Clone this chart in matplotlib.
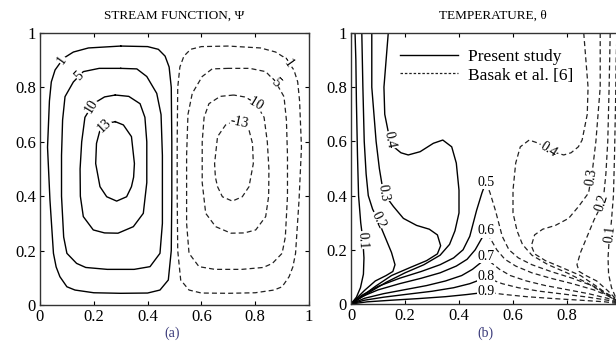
import numpy as np
import matplotlib.pyplot as plt
from matplotlib.lines import Line2D

plt.rcParams['font.family'] = ['Liberation Serif', 'DejaVu Serif']

# ---- stream function contours (left cell) ----
psi_levels = [1, 5, 10, 13]
psi1_x = [0.30, 0.40, 0.44, 0.465, 0.48, 0.488, 0.49, 0.49, 0.488, 0.477, 0.446, 0.40, 0.30, 0.20,
          0.13, 0.10, 0.074, 0.06, 0.05, 0.037, 0.028, 0.035, 0.042, 0.056, 0.087, 0.124, 0.18, 0.30]
psi1_y = [0.952, 0.95, 0.94, 0.915, 0.875, 0.8, 0.6, 0.4, 0.2, 0.092, 0.055, 0.044, 0.043, 0.045,
          0.055, 0.067, 0.104, 0.14, 0.19, 0.386, 0.58, 0.75, 0.82, 0.864, 0.907, 0.93, 0.945, 0.952]
psi5_x = [0.30, 0.36, 0.397, 0.434, 0.45, 0.455, 0.455, 0.446, 0.409, 0.35, 0.25, 0.17, 0.136, 0.1,
          0.088, 0.08, 0.08, 0.084, 0.093, 0.124, 0.161, 0.22, 0.30]
psi5_y = [0.87, 0.868, 0.84, 0.778, 0.7, 0.55, 0.3, 0.19, 0.141, 0.131, 0.131, 0.138, 0.153, 0.19,
          0.25, 0.4, 0.55, 0.68, 0.766, 0.82, 0.858, 0.87, 0.87]
psi10_x = [0.28, 0.33, 0.372, 0.39, 0.397, 0.397, 0.384, 0.347, 0.29, 0.24, 0.198, 0.161, 0.15,
           0.149, 0.155, 0.167, 0.198, 0.24, 0.28]
psi10_y = [0.772, 0.767, 0.74, 0.69, 0.6, 0.45, 0.337, 0.288, 0.264, 0.265, 0.276, 0.325, 0.4,
           0.5, 0.6, 0.69, 0.74, 0.765, 0.772]
psi13_x = [0.28, 0.31, 0.34, 0.351, 0.348, 0.34, 0.322, 0.285, 0.248, 0.223, 0.207, 0.21, 0.223, 0.25, 0.28]
psi13_y = [0.674, 0.662, 0.619, 0.52, 0.47, 0.435, 0.398, 0.382, 0.398, 0.435, 0.52, 0.594, 0.643, 0.668, 0.674]

# ---- temperature contours (left half) ----
theta_levels = [0.1, 0.2, 0.3, 0.4, 0.5, 0.6, 0.7, 0.8, 0.9]
t01_x = [0.015, 0.018, 0.02, 0.024, 0.028, 0.036, 0.044, 0.048, 0.046, 0.035, 0.02, 0.0]
t01_y = [1.0, 0.9, 0.75, 0.55, 0.4, 0.3, 0.236, 0.17, 0.11, 0.06, 0.025, 0.0]
t02_x = [0.04, 0.044, 0.049, 0.056, 0.064, 0.08, 0.1, 0.125, 0.15, 0.163, 0.155, 0.13, 0.09, 0.05, 0.02, 0.0]
t02_y = [1.0, 0.8, 0.6, 0.48, 0.4, 0.35, 0.31, 0.25, 0.19, 0.145, 0.12, 0.105, 0.085, 0.05, 0.02, 0.0]
t03_x = [0.077, 0.077, 0.085, 0.093, 0.105, 0.12, 0.157, 0.194, 0.243, 0.29, 0.32, 0.332, 0.32,
         0.28, 0.22, 0.15, 0.09, 0.04, 0.0]
t03_y = [1.0, 0.8, 0.7, 0.6, 0.5, 0.41, 0.36, 0.316, 0.29, 0.276, 0.255, 0.215, 0.185,
         0.16, 0.135, 0.105, 0.065, 0.028, 0.0]
t04_x = [0.138, 0.13, 0.122, 0.125, 0.144, 0.158, 0.185, 0.212, 0.256, 0.305, 0.34, 0.373, 0.39,
         0.40, 0.40, 0.385, 0.365, 0.33, 0.27, 0.2, 0.13, 0.06, 0.0]
t04_y = [1.0, 0.9, 0.8, 0.7, 0.605, 0.58, 0.558, 0.55, 0.562, 0.593, 0.605, 0.58, 0.52,
         0.42, 0.336, 0.27, 0.22, 0.18, 0.145, 0.115, 0.08, 0.038, 0.0]
t05_x = [0.0, 0.04, 0.1, 0.18, 0.26, 0.33, 0.38, 0.415, 0.44, 0.465, 0.485, 0.5]
t05_y = [0.0, 0.032, 0.065, 0.095, 0.12, 0.145, 0.17, 0.2, 0.25, 0.345, 0.41, 0.45]
t06_x = [0.0, 0.04, 0.1, 0.18, 0.26, 0.33, 0.39, 0.43, 0.46, 0.48, 0.5]
t06_y = [0.0, 0.027, 0.052, 0.075, 0.095, 0.115, 0.14, 0.165, 0.2, 0.235, 0.27]
t07_x = [0.0, 0.05, 0.12, 0.2, 0.28, 0.35, 0.41, 0.45, 0.48, 0.5]
t07_y = [0.0, 0.021, 0.038, 0.053, 0.068, 0.085, 0.105, 0.128, 0.152, 0.175]
t08_x = [0.0, 0.05, 0.12, 0.2, 0.3, 0.38, 0.44, 0.48, 0.5]
t08_y = [0.0, 0.014, 0.025, 0.035, 0.047, 0.06, 0.075, 0.09, 0.1]
t09_x = [0.0, 0.06, 0.15, 0.25, 0.35, 0.43, 0.48, 0.5]
t09_y = [0.0, 0.008, 0.014, 0.02, 0.027, 0.035, 0.041, 0.045]

ticks = [0, 0.2, 0.4, 0.6, 0.8, 1]
tick_labels = ['0', '0.2', '0.4', '0.6', '0.8', '1']

psi_lines = [(psi1_x, psi1_y), (psi5_x, psi5_y), (psi10_x, psi10_y), (psi13_x, psi13_y)]
theta_lines = [(t01_x, t01_y), (t02_x, t02_y), (t03_x, t03_y), (t04_x, t04_y), (t05_x, t05_y),
               (t06_x, t06_y), (t07_x, t07_y), (t08_x, t08_y), (t09_x, t09_y)]

solid = dict(color='black', lw=1.0, solid_joinstyle='round')
dash = dict(color='#222222', lw=0.9, ls=(0, (4, 2.5)))


def label_on(ax, xs, ys, text, near, flat=False, size=10):
    # put a label on the line, at the spot closest to `near`, turned along the line
    pts = ax.transData.transform(np.column_stack([xs, ys]))
    target = ax.transData.transform([near])[0]
    best = None
    for i in range(len(pts) - 1):
        a, b = pts[i], pts[i + 1]
        ab = b - a
        t = np.clip(np.dot(target - a, ab) / max(np.dot(ab, ab), 1e-9), 0, 1)
        p = a + t * ab
        d = np.hypot(*(target - p))
        if best is None or d < best[0]:
            best = (d, p, ab)
    _, p, ab = best
    ang = np.degrees(np.arctan2(ab[1], ab[0]))
    if ang > 90:
        ang -= 180
    if ang < -90:
        ang += 180
    if flat:
        ang = 0
    x, y = ax.transData.inverted().transform(p)
    ax.text(x, y, text, rotation=ang, rotation_mode='anchor', ha='center', va='center',
            fontsize=size, bbox=dict(fc='white', ec='none', pad=0.3), zorder=3)


def style_axes(ax, xlabels):
    ax.set_xlim(0, 1)
    ax.set_ylim(0, 1)
    ax.set_xticks(ticks)
    ax.set_xticklabels(xlabels)
    ax.set_yticks(ticks)
    ax.set_yticklabels(tick_labels)
    ax.tick_params(direction='in', length=3, width=0.8, top=True, right=True, labelsize=12, pad=3)
    for s in ax.spines.values():
        s.set_linewidth(1.0)
        s.set_color('#333333')


fig = plt.figure(figsize=(6.16, 3.43), dpi=100)

# ---- (a) stream function ----
ax1 = fig.add_axes([40 / 616, 38 / 343, 269 / 616, 272 / 343])
style_axes(ax1, tick_labels)
for xs, ys in psi_lines:
    ax1.plot(xs, ys, **solid)
    ax1.plot(1 - np.array(xs), ys, **dash)  # Basak et al. result, mirror cell

psi_label_at = [(0.074, 0.907), (0.143, 0.846), (0.19, 0.73), (0.24, 0.66)]
psi_label_neg = [(0.93, 0.9), (0.86, 0.81), (0.79, 0.73), (0.74, 0.66)]
for (xs, ys), lev, p, q in zip(psi_lines, psi_levels, psi_label_at, psi_label_neg):
    label_on(ax1, xs, ys, '%d' % lev, p)
    label_on(ax1, 1 - np.array(xs), ys, '%d' % -lev, q)

fig.text(174 / 616, 1 - 16 / 343, 'STREAM FUNCTION, \u03a8', ha='center', va='center', fontsize=9.5)
fig.text(172 / 616, 1 - 333 / 343, '(a)', ha='center', va='center', fontsize=10, color='#3a3a7a')

# ---- (b) temperature ----
ax2 = fig.add_axes([351 / 616, 39 / 343, 270 / 616, 271 / 343])
style_axes(ax2, tick_labels[:-1] + [''])  # the "1" falls off the picture edge
for xs, ys in theta_lines:
    ax2.plot(xs, ys, **solid)
    ax2.plot(1 - np.array(xs), ys, **dash)  # Basak et al. result, mirror half

left_at = [(0.046, 0.236), (0.1, 0.31), (0.12, 0.41), (0.144, 0.605)]
right_at = [(0.94, 0.26), (0.91, 0.378), (0.88, 0.47), (0.73, 0.57)]
for (xs, ys), lev, p, q in zip(theta_lines[:4], theta_levels[:4], left_at, right_at):
    label_on(ax2, xs, ys, '%.1f' % lev, p)
    label_on(ax2, 1 - np.array(xs), ys, '%.1f' % lev, q)
for (xs, ys), lev in zip(theta_lines[4:], theta_levels[4:]):
    label_on(ax2, xs, ys, '%.1f' % lev, (xs[-1], ys[-1]), flat=True)

handles = [Line2D([], [], **solid), Line2D([], [], color='#222222', lw=0.9, ls=(0, (2, 1.5)))]
ax2.legend(handles, ['Present study', 'Basak et al. [6]'], loc='upper left',
           bbox_to_anchor=(0.125, 1.0), frameon=False, fontsize=12.5, handlelength=3.3,
           handletextpad=0.6, labelspacing=0.15)

fig.text(493 / 616, 1 - 16 / 343, 'TEMPERATURE, \u03b8', ha='center', va='center', fontsize=9.5)
fig.text(485 / 616, 1 - 333 / 343, '(b)', ha='center', va='center', fontsize=10, color='#3a3a7a')

fig.savefig('out.png', dpi=100)
